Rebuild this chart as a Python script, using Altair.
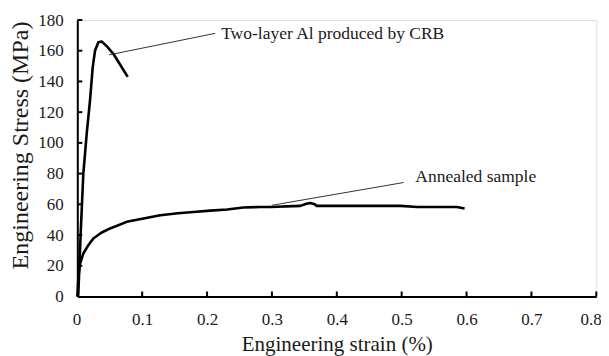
import altair as alt
import pandas as pd

# CRB two-layer Al curve (strain %, stress MPa)
crb_strain = [0.0, 0.0015, 0.0052, 0.0093, 0.0145, 0.0196, 0.0237, 0.0273, 0.0324, 0.0376, 0.0453, 0.0556, 0.0659, 0.0777]
crb_stress = [0.0, 1, 41, 80, 106, 127.6, 149, 160, 165.5, 166, 163, 158, 151, 143]

# Annealed sample curve
ann_strain = [0.0, 0.002, 0.004, 0.0093, 0.017, 0.0247, 0.037, 0.0505, 0.0762, 0.102, 0.128, 0.155, 0.179, 0.205,
              0.231, 0.256, 0.282, 0.297, 0.344, 0.352, 0.359, 0.366, 0.369, 0.498, 0.524, 0.585, 0.597]
ann_stress = [0.0, 14, 21, 28, 33.4, 37.8, 41.5, 44.3, 48.6, 50.8, 52.9, 54.2, 55, 55.9,
              56.6, 57.9, 58.3, 58.3, 59, 60.2, 60.9, 60.0, 59, 59, 58.3, 58.3, 57.3]

# annotation leader lines and labels
lead_x1 = [0.049, 0.300]
lead_y1 = [157.3, 59.4]
lead_x2 = [0.2125, 0.503]
lead_y2 = [171.3, 74.2]
label_x = [0.2217, 0.521]
label_y = [171.0, 77.8]
label_text = ["Two-layer Al produced by CRB", "Annealed  sample"]

x_ticks = [0.1, 0.2, 0.3, 0.4, 0.5, 0.6, 0.7, 0.8]
y_ticks = [20, 40, 60, 80, 100, 120, 140, 160, 180]
x_labels = [0, 0.1, 0.2, 0.3, 0.4, 0.5, 0.6, 0.7, 0.8]
y_labels = [0, 20, 40, 60, 80, 100, 120, 140, 160, 180]

W = 519
H = 276.5
FONT = "Liberation Serif"
TXT = "#1a1a1a"

crb = pd.DataFrame({"x": crb_strain, "y": crb_stress, "s": "CRB", "o": range(len(crb_strain))})
ann = pd.DataFrame({"x": ann_strain, "y": ann_stress, "s": "Annealed", "o": range(len(ann_strain))})
curves = pd.concat([crb, ann])

xs = alt.Scale(domain=[0, 0.8], nice=False)
ys = alt.Scale(domain=[0, 180], nice=False)

xaxis = alt.Axis(values=x_labels, format=".1~f", ticks=False,
                 grid=False, labelPadding=15, labelFontSize=17, labelFont=FONT, labelColor=TXT,
                 labelOverlap=False, labelFlush=True, labelFlushOffset=5,
                 domainColor="black", domainWidth=2, title="Engineering strain (%)",
                 titleFont=FONT, titleFontSize=21, titleFontWeight="normal", titleColor=TXT,
                 titleBaseline="alphabetic", titleY=54)
yaxis = alt.Axis(values=y_labels, ticks=False, grid=False,
                 labelPadding=14, labelFontSize=17, labelFont=FONT, labelColor=TXT,
                 labelOverlap=False, labelFlush=False,
                 domainColor="black", domainWidth=2, title="Engineering Stress (MPa)",
                 titleFont=FONT, titleFontSize=24, titleFontWeight="normal", titleColor=TXT,
                 titleX=-45, titleY=125)


def X(f):
    return alt.X(f, scale=xs, axis=xaxis)


def Y(f):
    return alt.Y(f, scale=ys, axis=yaxis)


lines = alt.Chart(curves).mark_line(color="black", strokeWidth=2.6, strokeJoin="round").encode(
    x=X("x:Q"), y=Y("y:Q"), detail="s:N", order="o:Q",
)

leaders = alt.Chart(pd.DataFrame({"x": lead_x1, "y": lead_y1, "x2": lead_x2, "y2": lead_y2})).mark_rule(
    color="#333", strokeWidth=1
).encode(x=X("x:Q"), y=Y("y:Q"), x2="x2:Q", y2="y2:Q")

labels = alt.Chart(pd.DataFrame({"x": label_x, "y": label_y, "t": label_text})).mark_text(
    align="left", baseline="middle", font=FONT, fontSize=17.5, color=TXT
).encode(x=X("x:Q"), y=Y("y:Q"), text="t:N")

xt = alt.Chart(pd.DataFrame({"v": x_ticks})).mark_rule(color="black", strokeWidth=2).encode(
    x=X("v:Q"), y=alt.value(H), y2=alt.value(H - 5))
yt = alt.Chart(pd.DataFrame({"v": y_ticks})).mark_rule(color="black", strokeWidth=2).encode(
    y=Y("v:Q"), x=alt.value(0), x2=alt.value(5))

chart = alt.layer(lines, leaders, labels, xt, yt).properties(
    width=W, height=H,
    autosize=alt.AutoSizeParams(type="none"),
    padding={"left": 69.3, "top": 12, "right": 4.5, "bottom": 59},
).configure_view(stroke=None).configure(background="white", font=FONT).configure_axis(
    labelFont=FONT, titleFont=FONT)

chart.save("out.html", embed_options={"renderer": "svg", "actions": False})
